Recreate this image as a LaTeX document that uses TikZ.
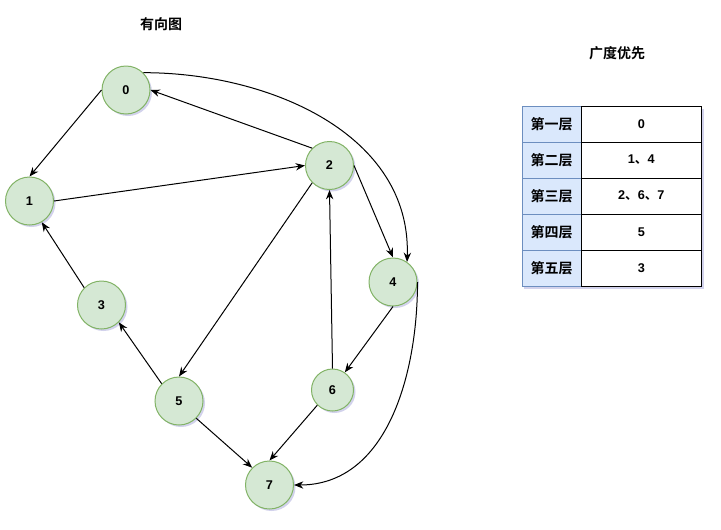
\documentclass[tikz,border=0pt]{standalone}
\usepackage{fontspec}
\setmainfont{Liberation Sans}
\newfontfamily\cjk{Noto Sans CJK SC}[BoldFont={Noto Sans CJK SC Bold}]
\usepackage{tikz}
\usetikzlibrary{positioning}
\usetikzlibrary{arrows.meta,shadows}
\definecolor{vfill}{HTML}{D5E8D4}
\definecolor{vline}{HTML}{82B366}
\definecolor{hfill}{HTML}{DAE8FC}
\definecolor{hline}{HTML}{6C8EBF}
\newcommand{\dun}{{\cjk 、}}
\tikzstyle{vertex}=[draw=vline, fill=vfill, circle, line width=0.75pt, minimum size=36pt, inner sep=0pt, font=\bfseries\fontsize{9.5}{11}\selectfont, drop shadow={shadow xshift=1.5pt, shadow yshift=-1.5pt, opacity=0.25, fill=blue!40!gray}]
\tikzstyle{edge}=[-{Stealth[length=7pt, width=5.5pt]}, line width=0.75pt]
\tikzstyle{levelcell}=[draw=hline, fill=hfill, line width=0.75pt, outer sep=0pt, minimum width=44.25pt, minimum height=27pt, inner sep=0pt, font=\cjk\bfseries\fontsize{10.5}{12}\selectfont]
\tikzstyle{valuecell}=[draw, fill=white, line width=0.75pt, outer sep=0pt, minimum width=90.4pt, minimum height=27pt, inner sep=0pt, font=\bfseries\fontsize{9.5}{11}\selectfont]
\tikzstyle{title}=[font=\cjk\bfseries\fontsize{10.5}{12}\selectfont]

\begin{document}
\begin{tikzpicture}[x=0.75pt, y=-0.75pt]
            \useasboundingbox (0,0) rectangle (721,529);

            \node[title] (t1) at (161,24) {有向图};
            \node[title] (t2) at (617,53) {广度优先};

            \node[vertex] (n0) at (126,90) {0};
            \node[vertex] (n1) at (29.5,201) {1};
            \node[vertex] (n2) at (329.5,165.5) {2};
            \node[vertex] (n3) at (101.5,305) {3};
            \node[vertex] (n4) at (393,282) {4};
            \node[vertex] (n5) at (179,401) {5};
            \node[vertex, minimum size=31.5pt] (n6) at (332.5,390) {6};
            \node[vertex] (n7) at (269.5,485) {7};

            \draw[edge] (n0.west) -- (n1.north);
            \draw[edge] (n1.east) -- (n2.west);
            \draw[edge] (n2.north west) -- (n0.east);
            \draw[edge] (n2.east) -- (n4.north);
            \draw[edge] (n0.north east) to[out=0, in=88] (n4.55);
            \draw[edge] (n2.south west) -- (n5.north);
            \draw[edge] (n3.north west) -- (n1.-60);
            \draw[edge] (n5.north west) -- (n3.south east);
            \draw[edge] (n6.north) -- (n2.south);
            \draw[edge] (n4.south) -- (n6.55);
            \draw[edge] (n5.south east) -- (n7.north west);
            \draw[edge] (n6.south west) -- (n7.north);
            \draw[edge] (n4.east) to[out=-90, in=0] (n7.east);

            \fill[blue!40!gray, opacity=0.25] (524,109) rectangle (704,289);
            \node[levelcell] (l1) at (551.5,124) {第一层};
            \node[levelcell, below=0pt of l1] (l2) {第二层};
            \node[levelcell, below=0pt of l2] (l3) {第三层};
            \node[levelcell, below=0pt of l3] (l4) {第四层};
            \node[levelcell, below=0pt of l4] (l5) {第五层};
            \node[valuecell, right=0pt of l1] (v1) {0};
            \node[valuecell, right=0pt of l2] (v2) {1\dun 4};
            \node[valuecell, right=0pt of l3] (v3) {2\dun 6\dun 7};
            \node[valuecell, right=0pt of l4] (v4) {5};
            \node[valuecell, right=0pt of l5] (v5) {3};
        \end{tikzpicture}
\end{document}
